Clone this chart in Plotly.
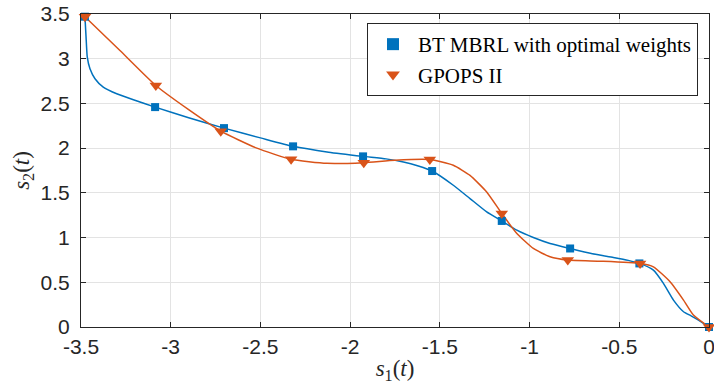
import plotly.graph_objects as go

# Line samples
bt_line_x = [-3.478, -3.472, -3.465, -3.45, -3.422, -3.376, -3.301, -3.208, -3.087, -2.90, -2.703, -2.50, -2.318, -2.12, -1.928, -1.80, -1.703, -1.62, -1.543, -1.425, -1.332, -1.239, -1.155, -1.071, -0.979, -0.886, -0.774, -0.65, -0.533, -0.45, -0.388, -0.31, -0.254, -0.198, -0.142, -0.10, -0.068, 0.0]
bt_line_y = [3.47, 3.25, 3.017, 2.887, 2.776, 2.682, 2.608, 2.541, 2.459, 2.34, 2.224, 2.115, 2.02, 1.955, 1.908, 1.88, 1.845, 1.80, 1.744, 1.585, 1.436, 1.287, 1.186, 1.083, 1.001, 0.934, 0.878, 0.82, 0.778, 0.745, 0.711, 0.636, 0.488, 0.301, 0.171, 0.125, 0.088, 0.0]

gp_line_x = [-3.478, -3.283, -3.083, -2.90, -2.721, -2.52, -2.329, -2.13, -1.924, -1.75, -1.556, -1.425, -1.332, -1.239, -1.155, -1.071, -0.979, -0.886, -0.787, -0.60, -0.384, -0.31, -0.217, -0.142, -0.087, 0.0]
gp_line_y = [3.47, 3.091, 2.70, 2.43, 2.19, 2.00, 1.875, 1.83, 1.838, 1.865, 1.872, 1.808, 1.696, 1.51, 1.27, 1.046, 0.878, 0.785, 0.748, 0.735, 0.71, 0.673, 0.506, 0.301, 0.134, 0.0]

# Marker samples
bt_mark_x = [-3.478, -3.087, -2.703, -2.318, -1.928, -1.543, -1.155, -0.774, -0.388, 0.0]
bt_mark_y = [3.47, 2.459, 2.224, 2.02, 1.908, 1.744, 1.186, 0.878, 0.711, 0.0]
gp_mark_x = [-3.478, -3.083, -2.721, -2.329, -1.924, -1.556, -1.155, -0.787, -0.384, 0.0]
gp_mark_y = [3.47, 2.70, 2.19, 1.875, 1.838, 1.872, 1.27, 0.748, 0.71, 0.0]

x_ticks = [-3.5, -3, -2.5, -2, -1.5, -1, -0.5, 0]
x_tick_labels = ["-3.5", "-3", "-2.5", "-2", "-1.5", "-1", "-0.5", "0"]
y_ticks = [0, 0.5, 1, 1.5, 2, 2.5, 3, 3.5]
y_tick_labels = ["0", "0.5", "1", "1.5", "2", "2.5", "3", "3.5"]

BLUE = "#0072BD"
ORANGE = "#D95319"
SERIF = "'Liberation Serif', 'Times New Roman', serif"

fig = go.Figure()
fig.add_trace(go.Scatter(x=bt_line_x, y=bt_line_y, mode="lines",
                         line=dict(color=BLUE, width=1.5, shape="spline", smoothing=0.5),
                         showlegend=False, hoverinfo="skip"))
fig.add_trace(go.Scatter(x=gp_line_x, y=gp_line_y, mode="lines",
                         line=dict(color=ORANGE, width=1.5, shape="spline", smoothing=0.5),
                         showlegend=False, hoverinfo="skip"))
fig.add_trace(go.Scatter(x=bt_mark_x, y=bt_mark_y, mode="markers",
                         marker=dict(symbol="square", size=8, color=BLUE),
                         name="BT MBRL with optimal weights", cliponaxis=False))
fig.add_trace(go.Scatter(x=gp_mark_x, y=gp_mark_y, mode="markers",
                         marker=dict(symbol="triangle-down", size=11, color=ORANGE),
                         name="GPOPS II", cliponaxis=False))

axis_common = dict(
    showline=True, linecolor="#262626", linewidth=1, mirror="ticks",
    ticks="inside", ticklen=5, tickcolor="#262626",
    showgrid=True, gridcolor="#E3E3E3", gridwidth=1,
    zeroline=False, automargin=False, ticklabeloverflow="allow",
    tickfont=dict(family="'Liberation Sans', Arial, sans-serif", size=21, color="#262626"),
)

fig.update_xaxes(range=[-3.5, 0], tickvals=x_ticks, ticktext=x_tick_labels,
                 ticklabelstandoff=1,
                 title=dict(text="<i>s</i><sub>1</sub>(<i>t</i>)", standoff=2,
                            font=dict(family=SERIF, size=23, color="#262626")),
                 **axis_common)
fig.update_yaxes(range=[0, 3.5], tickvals=y_ticks, ticktext=y_tick_labels,
                 ticklabelstandoff=6,
                 title=dict(text="<i>s</i><sub>2</sub>(<i>t</i>)", standoff=4,
                            font=dict(family=SERIF, size=23, color="#262626")),
                 **axis_common)

fig.update_layout(
    width=714, height=387,
    margin=dict(l=81, r=5, t=14, b=60),
    font=dict(family=SERIF),
    plot_bgcolor="white", paper_bgcolor="white",
    legend=dict(x=(698 - 81) / 628, y=(327 - 23) / 313, xanchor="right", yanchor="top",
                bgcolor="white", bordercolor="#262626", borderwidth=1,
                font=dict(family=SERIF, size=21, color="#000000"),
                tracegroupgap=0, itemsizing="constant", itemwidth=40),
)

fig.write_html("out.html", config={"displayModeBar": False},
               post_script="document.body.style.margin='0';document.body.style.overflow='hidden';")
